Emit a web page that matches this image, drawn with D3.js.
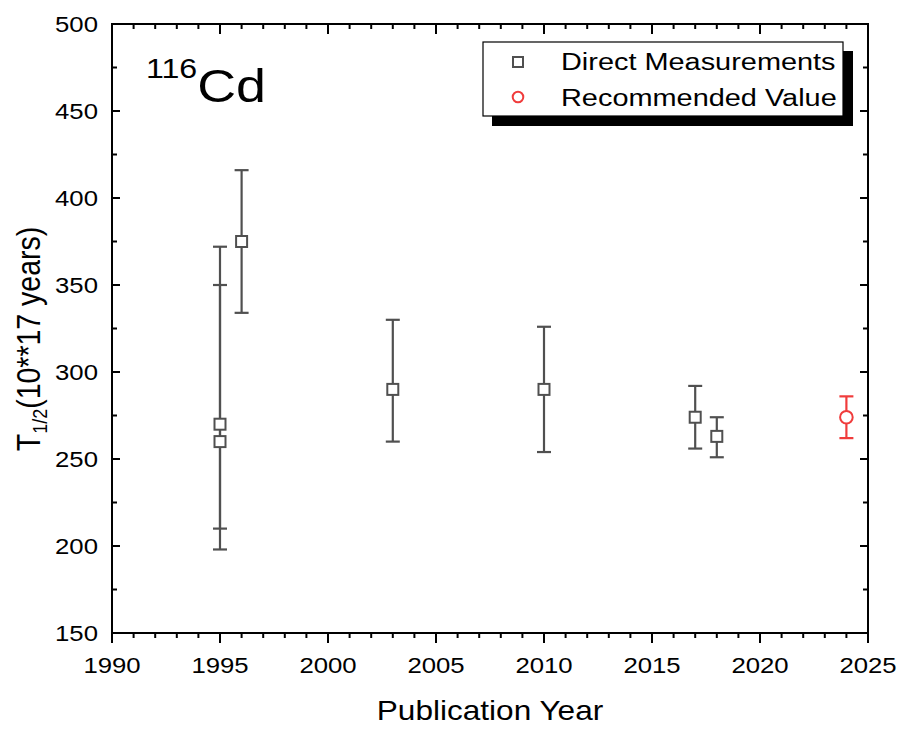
<!DOCTYPE html>
<html><head><meta charset="utf-8">
<script src="https://cdn.jsdelivr.net/npm/d3@7"></script>
<style>body{margin:0;background:#fff}svg{display:block}text{font-family:"Liberation Sans",Arial,sans-serif;fill:#000}</style>
</head><body>
<script>
// ---- data ----
const years  = [1995, 1995, 1996, 2003, 2010, 2017, 2018];
const values = [270, 260, 375, 290, 290, 274, 263];
const upper  = [372, 350, 416, 330, 326, 292, 274];
const lower  = [198, 210, 334, 260, 254, 256, 251];
const recYears  = [2024];
const recValues = [274];
const recUpper  = [286];
const recLower  = [262];
const xTicks = [1990, 1995, 2000, 2005, 2010, 2015, 2020, 2025];
const yTicks = [150, 200, 250, 300, 350, 400, 450, 500];
const legendLabels = ["Direct Measurements", "Recommended Value"];

const W = 902, H = 729;
const L = 112, R = 868, T = 24, B = 633;
const SX = 1.17; // horizontal text stretch
const grey = "#505050", red = "#f03c3c";

const svg = d3.select("body").append("svg").attr("width", W).attr("height", H);
const x = d3.scaleLinear().domain([1990, 2025]).range([L, R]);
const y = d3.scaleLinear().domain([150, 500]).range([B, T]);

function txt(g, px, py, s, size, anchor, extra) {
  const t = g.append("text").attr("transform", `translate(${px},${py}) scale(${SX},1)` + (extra || ""))
    .attr("font-size", size).attr("text-anchor", anchor || "start");
  t.text(s);
  return t;
}

// minor/major ticks
const minorX = d3.range(1990, 2026, 1);
const minorY = d3.range(150, 501, 25);
const ax = svg.append("g").attr("stroke", "#000").attr("stroke-width", 2);
minorX.forEach(v => {
  const maj = v % 5 === 0;
  ax.append("line").attr("x1", x(v)).attr("x2", x(v)).attr("y1", B).attr("y2", B + (maj ? 10 : 5));
  ax.append("line").attr("x1", x(v)).attr("x2", x(v)).attr("y1", T).attr("y2", T + (maj ? 10 : 5));
});
minorY.forEach(v => {
  const maj = v % 50 === 0;
  ax.append("line").attr("y1", y(v)).attr("y2", y(v)).attr("x1", L).attr("x2", L + (maj ? 8 : 5));
  ax.append("line").attr("y1", y(v)).attr("y2", y(v)).attr("x1", R).attr("x2", R - (maj ? 8 : 5));
});
svg.append("rect").attr("x", L).attr("y", T).attr("width", R - L).attr("height", B - T)
  .attr("fill", "none").attr("stroke", "#000").attr("stroke-width", 2);

// tick labels
const lab = svg.append("g");
xTicks.forEach(v => txt(lab, x(v), B + 40, String(v), 22, "middle"));
yTicks.forEach(v => txt(lab, 98, y(v) + 8, String(v), 22, "end"));

// axis titles
txt(svg, (L + R) / 2, 720, "Publication Year", 27, "middle");
const yt = svg.append("text").attr("transform", `translate(40,339) scale(${SX},1) rotate(-90)`)
  .attr("font-size", 28.5).attr("text-anchor", "middle");
yt.append("tspan").text("T");
yt.append("tspan").attr("font-size", 18).attr("dy", 6).text("1/2");
yt.append("tspan").attr("dy", -6).text("(10**17 years)");

// 116Cd label
const cd = svg.append("text").attr("transform", `translate(146,102) scale(${SX},1)`).attr("font-size", 46);
cd.append("tspan").attr("font-size", 27.5).attr("dy", -24).text("116");
cd.append("tspan").attr("dy", 24).text("Cd");

// error bars
function errBars(g, xs, lo, hi, col) {
  xs.forEach((v, i) => {
    g.append("line").attr("x1", x(v)).attr("x2", x(v)).attr("y1", y(lo[i])).attr("y2", y(hi[i]))
      .attr("stroke", col).attr("stroke-width", 2.2);
    [lo[i], hi[i]].forEach(e => g.append("line").attr("x1", x(v) - 7).attr("x2", x(v) + 7)
      .attr("y1", y(e)).attr("y2", y(e)).attr("stroke", col).attr("stroke-width", 2.2));
  });
}
const pts = svg.append("g");
errBars(pts, years, lower, upper, grey);
errBars(pts, recYears, recLower, recUpper, red);
const sq = 11;
pts.selectAll("rect.m").data(years.map((v, i) => [v, values[i]])).enter().append("rect")
  .attr("x", d => x(d[0]) - sq / 2).attr("y", d => y(d[1]) - sq / 2).attr("width", sq).attr("height", sq)
  .attr("fill", "#fff").attr("stroke", grey).attr("stroke-width", 2);
pts.selectAll("circle.m").data(recYears.map((v, i) => [v, recValues[i]])).enter().append("circle")
  .attr("cx", d => x(d[0])).attr("cy", d => y(d[1])).attr("r", 6.3)
  .attr("fill", "#fff").attr("stroke", red).attr("stroke-width", 2);

// legend
const lg = svg.append("g");
lg.append("rect").attr("x", 492).attr("y", 51).attr("width", 361).attr("height", 75).attr("fill", "#000");
lg.append("rect").attr("x", 483).attr("y", 42).attr("width", 360).attr("height", 74)
  .attr("fill", "#fff").attr("stroke", "#000").attr("stroke-width", 1.2);
lg.append("rect").attr("x", 513).attr("y", 57).attr("width", 10).attr("height", 10)
  .attr("fill", "#fff").attr("stroke", grey).attr("stroke-width", 2);
lg.append("circle").attr("cx", 518).attr("cy", 97).attr("r", 5.3)
  .attr("fill", "#fff").attr("stroke", red).attr("stroke-width", 2);
txt(lg, 561, 70, legendLabels[0], 24.7, "start");
txt(lg, 561, 106, legendLabels[1], 24.7, "start");
</script>
</body></html>
